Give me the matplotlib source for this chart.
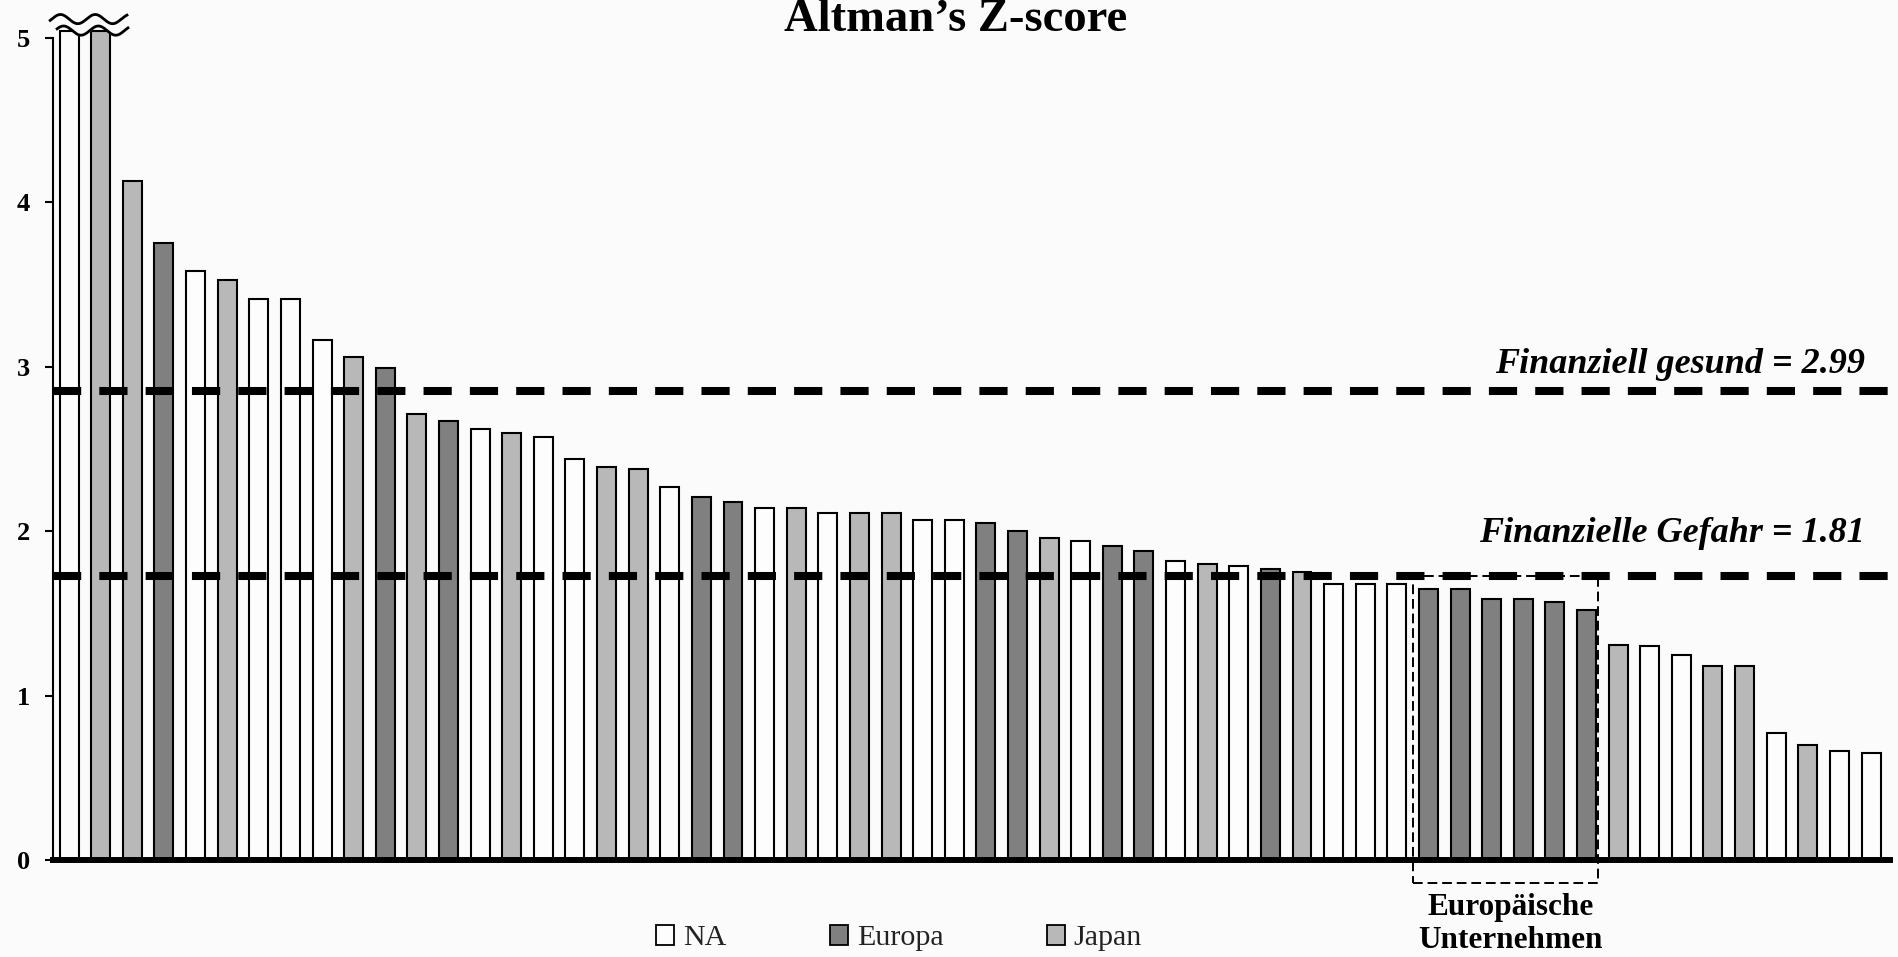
import numpy as np
import matplotlib
matplotlib.use("Agg")
import matplotlib.pyplot as plt
from matplotlib.patches import Patch, Rectangle

plt.rcParams['font.family'] = ['Liberation Serif', 'DejaVu Serif']

# region of each company, sorted by Z-score
regions = ['NA', 'JP', 'JP', 'EU', 'NA', 'JP', 'NA', 'NA', 'NA', 'JP',
           'EU', 'JP', 'EU', 'NA', 'JP', 'NA', 'NA', 'JP', 'JP', 'NA',
           'EU', 'EU', 'NA', 'JP', 'NA', 'JP', 'JP', 'NA', 'NA', 'EU',
           'EU', 'JP', 'NA', 'EU', 'EU', 'NA', 'JP', 'NA', 'EU', 'JP',
           'NA', 'NA', 'NA', 'EU', 'EU', 'EU', 'EU', 'EU', 'EU', 'JP',
           'NA', 'NA', 'JP', 'JP', 'NA', 'JP', 'NA', 'NA']
# Altman's Z-score (first two are off scale, drawn cut at the break)
zscores = [5.04, 5.04, 4.13, 3.75, 3.58, 3.53, 3.41, 3.41, 3.16, 3.06,
           2.99, 2.71, 2.67, 2.62, 2.60, 2.57, 2.44, 2.39, 2.38, 2.27,
           2.21, 2.18, 2.14, 2.14, 2.11, 2.11, 2.11, 2.07, 2.07, 2.05,
           2.00, 1.96, 1.94, 1.91, 1.88, 1.82, 1.80, 1.79, 1.77, 1.75,
           1.68, 1.68, 1.68, 1.65, 1.65, 1.59, 1.59, 1.57, 1.52, 1.31,
           1.30, 1.25, 1.18, 1.18, 0.77, 0.70, 0.66, 0.65]

legend_labels = {'NA': 'NA', 'EU': 'Europa', 'JP': 'Japan'}
colors = {'NA': '#fdfdfd', 'EU': '#808080', 'JP': '#b8b8b8'}

# threshold lines (level as drawn in the chart) and their labels
threshold_levels = [2.85, 1.73]
threshold_labels = ['Finanziell gesund = 2.99', 'Finanzielle Gefahr = 1.81']

# highlighted European group
box_first, box_last = 43, 48

W, H = 1899, 957
fig = plt.figure(figsize=(W / 100, H / 100), dpi=100, facecolor='#fbfbfb')
ymax = 5.2
ax = fig.add_axes([53 / W, (H - 860) / H, (1890 - 53) / W, (ymax * 164.4) / H])
ax.set_facecolor('#fbfbfb')

x = np.arange(len(zscores))
ax.bar(x, zscores, width=0.6, color=[colors[r] for r in regions],
       edgecolor='black', linewidth=1.5, zorder=2)

ax.set_xlim(-0.51, 57.6)
ax.set_ylim(0, ymax)

for s in ['top', 'right']:
    ax.spines[s].set_visible(False)
ax.spines['left'].set_bounds(0, 5)
ax.spines['left'].set_linewidth(1.5)
ax.spines['bottom'].set_linewidth(4.3)
ax.spines['bottom'].set_zorder(5)
ax.set_xticks([])
ax.set_yticks([0, 1, 2, 3, 4, 5])
ax.tick_params(axis='y', length=5.8, width=1.5, pad=10.5, labelsize=19)
for lab in ax.get_yticklabels():
    lab.set_fontweight('bold')

# threshold lines
for lvl in threshold_levels:
    ax.plot([-0.51, 57.8], [lvl, lvl], color='black', lw=5.8,
            dashes=(3.5, 2.25), zorder=4, clip_on=False, solid_capstyle='butt')
ax.text(56.8, 2.965, threshold_labels[0], ha='right', va='baseline',
        fontsize=26, fontweight='bold', fontstyle='italic')
ax.text(56.8, 1.934, threshold_labels[1], ha='right', va='baseline',
        fontsize=26, fontweight='bold', fontstyle='italic')

# dashed box around the European companies
bx0 = box_first - 0.48
bx1 = box_last + 0.36
rect = Rectangle((bx0, -0.14), bx1 - bx0, threshold_levels[1] + 0.14,
                 fill=False, edgecolor='black', lw=1.4, linestyle=(0, (5, 2.5)),
                 zorder=4, clip_on=False)
ax.add_patch(rect)
cx = (bx0 + bx1) / 2 + 0.15
ax.text(cx, -0.335, 'Europäische', ha='center', va='baseline',
        fontsize=22.5, fontweight='bold', clip_on=False)
ax.text(cx, -0.535, 'Unternehmen', ha='center', va='baseline',
        fontsize=22.5, fontweight='bold', clip_on=False)

# axis break marks above the first bars
xs_u = np.linspace(-0.6, 1.83, 200)
xs_l = np.linspace(-0.38, 1.86, 200)
up = 5.115 + 0.028 * np.sin(2 * np.pi * (xs_u + 0.55) / 1.1)
lo = 5.045 + 0.028 * np.sin(2 * np.pi * (xs_l + 0.45) / 1.1)
ax.fill_between(xs_l, lo, 5.11, color='#fbfbfb', zorder=3, clip_on=False)
ax.plot(xs_u, up, color='black', lw=2.0, zorder=4, clip_on=False)
ax.plot(xs_l, lo, color='black', lw=2.0, zorder=4, clip_on=False)

# title
fig.text(956 / W, 1 - 31 / H, 'Altman’s Z-score', ha='center', va='baseline',
         fontsize=33.6, fontweight='bold')

# legend
handles = [Patch(facecolor=colors[k], edgecolor='black', linewidth=1.3,
                 label=legend_labels[k]) for k in ['NA', 'EU', 'JP']]
leg = fig.legend(handles=handles, loc='center left',
                 bbox_to_anchor=(656 / W, 1 - 938 / H), ncol=3, frameon=False,
                 fontsize=21.6, handlelength=0.6, handleheight=0.67,
                 handletextpad=0.3, columnspacing=3.45, borderpad=0,
                 borderaxespad=0)
for t in leg.get_texts():
    t.set_color('#222222')

fig.savefig('out.png', dpi=100, facecolor=fig.get_facecolor())
